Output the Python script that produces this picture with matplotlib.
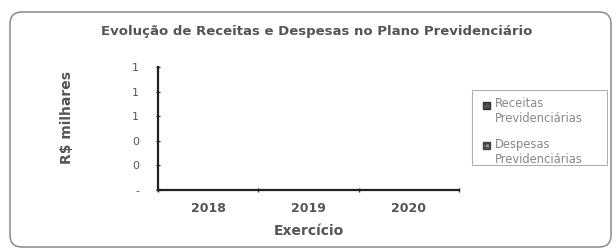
import matplotlib
matplotlib.use("Agg")
import matplotlib.pyplot as plt
from matplotlib.patches import FancyBboxPatch, Rectangle
from matplotlib.legend_handler import HandlerPatch, update_from_first_child
from matplotlib.container import BarContainer
from matplotlib.ticker import FuncFormatter, FixedLocator
import numpy as np

categories = ["2018", "2019", "2020"]
receitas = [0, 0, 0]
despesas = [0, 0, 0]
yticks = [0, 0.2, 0.4, 0.6, 0.8, 1.0]

W, H = 616, 250
fig = plt.figure(figsize=(W/100, H/100), dpi=100)
fig.patch.set_facecolor("white")

# background axes in pixel units for the rounded frame and legend box
bg = fig.add_axes([0, 0, 1, 1])
bg.set_xlim(0, W)
bg.set_ylim(H, 0)
bg.axis("off")
bg.add_patch(FancyBboxPatch((10, 12), 601, 235,
                            boxstyle="round,pad=0,rounding_size=12",
                            fill=False, edgecolor="#8a8a8a", linewidth=1.1))
bg.add_patch(Rectangle((472, 90), 135, 75, fill=False, edgecolor="#b0b0b0", linewidth=0.8))

ax = fig.add_axes([158/W, 60/H, 301/W, 123/H])
x = np.arange(len(categories))
w = 0.35
ax.bar(x - w/2, receitas, w, color="#555555", hatch="....", edgecolor="#333333",
       label="Receitas\nPrevidenciárias")
ax.bar(x + w/2, despesas, w, color="#9a9a9a", hatch="++++", edgecolor="#444444",
       label="Despesas\nPrevidenciárias")

ax.set_xlim(-0.5, 2.5)
ax.set_ylim(0, 1.0)
ax.yaxis.set_major_locator(FixedLocator(yticks))
ax.yaxis.set_major_formatter(FuncFormatter(lambda v, p: "-" if abs(v) < 1e-9 else f"{v:.0f}"))
ax.set_xticks([-0.5, 0.5, 1.5, 2.5])
ax.set_xticklabels([])
ax.set_xticks(x, minor=True)
ax.set_xticklabels(categories, minor=True, fontsize=9, fontweight="bold", color="#555555")
ax.tick_params(axis="x", which="minor", length=0, pad=9)
ax.tick_params(axis="x", which="major", length=3, width=1, direction="inout", color="#333333")
ax.tick_params(axis="y", length=3, width=1, direction="inout", color="#333333",
               labelsize=8, labelcolor="#555555", pad=12)

for s in ["top", "right"]:
    ax.spines[s].set_visible(False)
for s in ["left", "bottom"]:
    ax.spines[s].set_linewidth(1.6)
    ax.spines[s].set_color("#222222")

ax.set_xlabel("Exercício", fontsize=10, fontweight="bold", color="#555555", labelpad=6)
ax.set_ylabel("R$ milhares", fontsize=10, fontweight="bold", color="#555555")
ax.yaxis.set_label_coords((74 - 158) / 301, (190 - 118) / 123)

fig.text(317/W, 1 - 32/H, "Evolução de Receitas e Despesas no Plano Previdenciário",
         ha="center", va="center", fontsize=9.5, fontweight="bold", color="#555555")


def top_patch(legend, orig_handle, xdescent, ydescent, width, height, fontsize):
    return Rectangle((-xdescent, -ydescent + 0.6 * fontsize), width, height)


leg = fig.legend(loc="upper left", bbox_to_anchor=(480/W, 1 - 94/H), borderaxespad=0,
                 fontsize=8.3, frameon=False,
                 handlelength=0.55, handleheight=0.55, handletextpad=0.45,
                 labelspacing=1.05, borderpad=0.3, labelcolor="#888888",
                 handler_map={BarContainer: HandlerPatch(patch_func=top_patch,
                                                         update_func=update_from_first_child)})

fig.savefig("out.png", dpi=100, facecolor="white")
